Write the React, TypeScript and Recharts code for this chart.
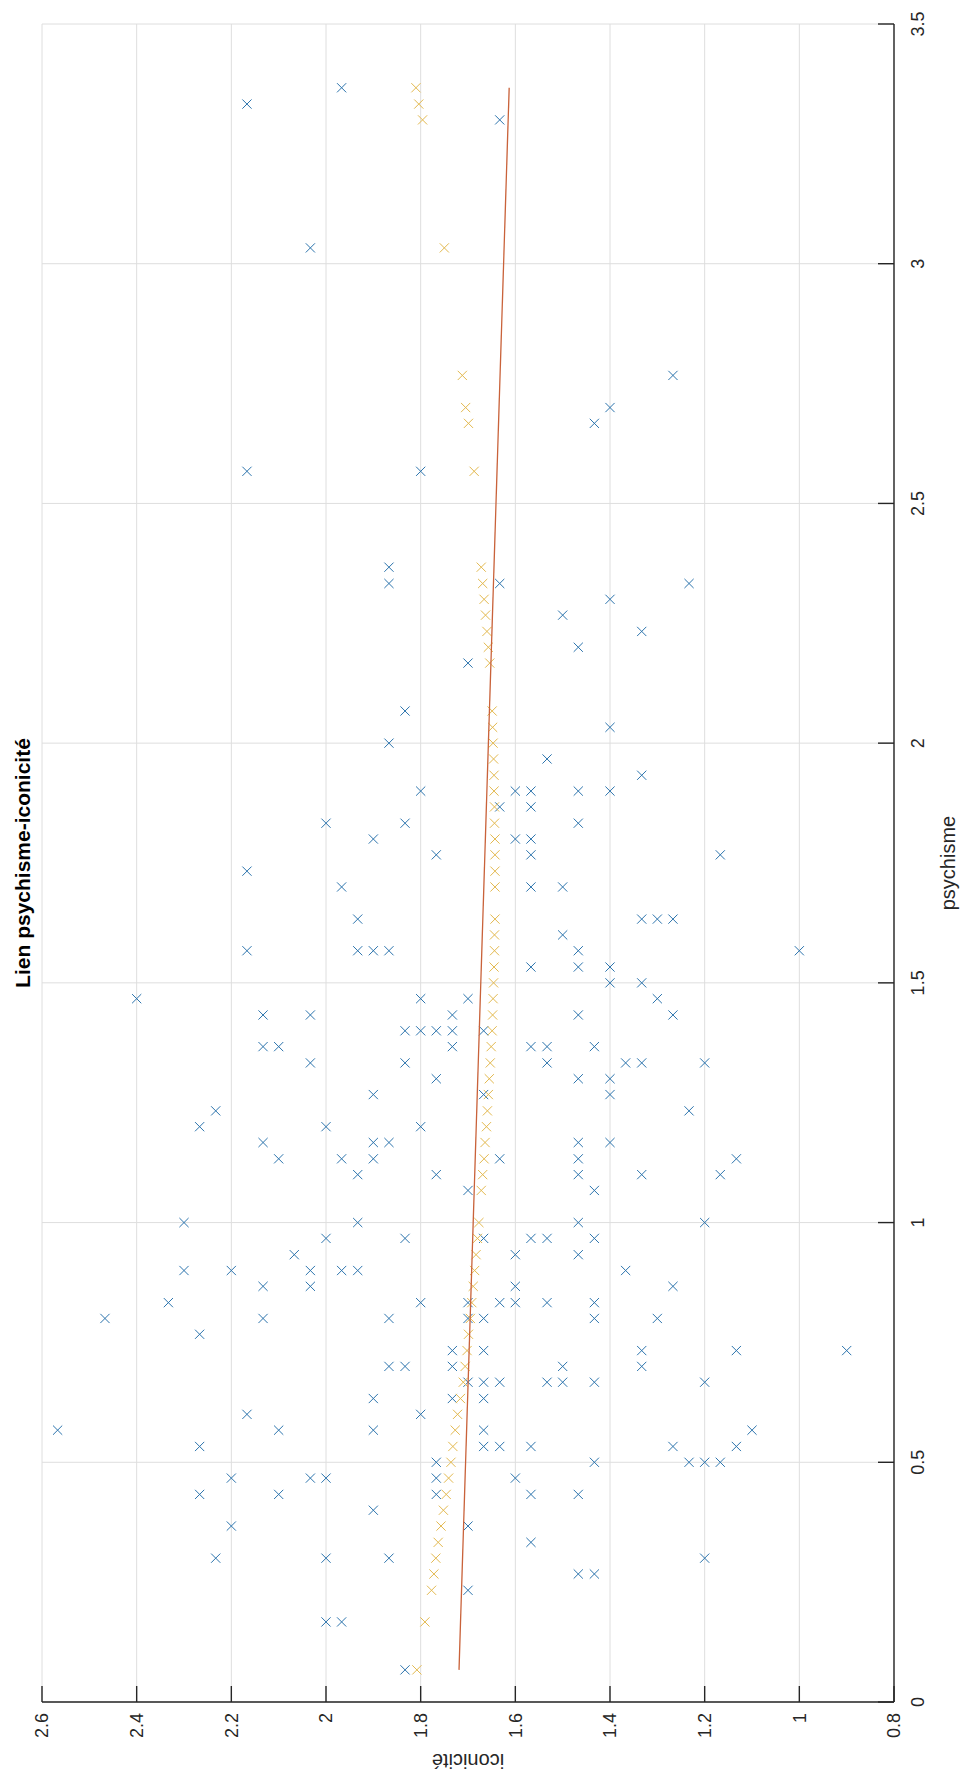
import { ScatterChart, Scatter, XAxis, YAxis, CartesianGrid } from 'recharts';

// chart is drawn upright (psychisme horizontal) then turned a quarter turn left, like the source image
const W = 1780;
const H = 969;
const AXIS = '#262626';
const GRID = '#dedede';
const BLUE = '#2c74ad';
const YELLOW = '#e3b94f';
const RED = '#c9623a';
const FONT = '"Liberation Sans", Arial, Helvetica, sans-serif';
const TICK_LEN = 16;

const psyTicks = [0, 0.5, 1, 1.5, 2, 2.5, 3, 3.5];
const icoTicks = [0.8, 1, 1.2, 1.4, 1.6, 1.8, 2, 2.2, 2.4, 2.6];

// observations
const obsPsychisme = [
  3.367, 3.333, 3.3, 3.033, 2.767, 2.7, 2.667, 2.567, 2.567,
  2.367, 2.333, 2.333, 2.333, 2.3, 2.267, 2.233, 2.2, 2.167, 2.067, 2.033, 2, 1.967, 1.933,
  1.9, 1.9, 1.9, 1.9, 1.9, 1.867, 1.867, 1.833, 1.833, 1.833, 1.8, 1.8, 1.8,
  1.767, 1.767, 1.767, 1.733, 1.7, 1.7, 1.7, 1.633, 1.633, 1.633, 1.633, 1.6,
  1.567, 1.567, 1.567, 1.567, 1.567, 1.567, 1.533, 1.533, 1.533, 1.5, 1.5,
  1.467, 1.467, 1.467, 1.467, 1.433, 1.433, 1.433, 1.433, 1.433, 1.4, 1.4, 1.4, 1.4, 1.4,
  1.367, 1.367, 1.367, 1.367, 1.367, 1.367, 1.333, 1.333, 1.333, 1.333, 1.333, 1.333,
  1.3, 1.3, 1.3, 1.267, 1.267, 1.267, 1.233, 1.233, 1.2, 1.2, 1.2,
  1.167, 1.167, 1.167, 1.167, 1.167, 1.133, 1.133, 1.133, 1.133, 1.133, 1.133,
  1.1, 1.1, 1.1, 1.1, 1.1, 1.067, 1.067, 1, 1, 1, 1,
  0.967, 0.967, 0.967, 0.967, 0.967, 0.967, 0.933, 0.933, 0.933,
  0.9, 0.9, 0.9, 0.9, 0.9, 0.9, 0.867, 0.867, 0.867, 0.867,
  0.833, 0.833, 0.833, 0.833, 0.833, 0.833, 0.833,
  0.8, 0.8, 0.8, 0.8, 0.8, 0.8, 0.8, 0.767,
  0.733, 0.733, 0.733, 0.733, 0.733, 0.7, 0.7, 0.7, 0.7, 0.7,
  0.667, 0.667, 0.667, 0.667, 0.667, 0.667, 0.667, 0.633, 0.633, 0.633,
  0.6, 0.6, 0.567, 0.567, 0.567, 0.567, 0.567,
  0.533, 0.533, 0.533, 0.533, 0.533, 0.533, 0.5, 0.5, 0.5, 0.5, 0.5,
  0.467, 0.467, 0.467, 0.467, 0.467, 0.433, 0.433, 0.433, 0.433, 0.433,
  0.4, 0.367, 0.367, 0.333, 0.3, 0.3, 0.3, 0.3, 0.267, 0.267, 0.233, 0.167, 0.167, 0.067,
];
const obsIconicite = [
  1.967, 2.167, 1.633, 2.033, 1.267, 1.4, 1.433, 2.167, 1.8,
  1.867, 1.867, 1.633, 1.233, 1.4, 1.5, 1.333, 1.467, 1.7, 1.833, 1.4, 1.867, 1.533, 1.333,
  1.8, 1.6, 1.567, 1.467, 1.4, 1.633, 1.567, 2, 1.833, 1.467, 1.9, 1.6, 1.567,
  1.767, 1.567, 1.167, 2.167, 1.967, 1.567, 1.5, 1.933, 1.333, 1.3, 1.267, 1.5,
  2.167, 1.933, 1.9, 1.867, 1.467, 1, 1.567, 1.467, 1.4, 1.4, 1.333,
  2.4, 1.8, 1.7, 1.3, 2.133, 2.033, 1.733, 1.467, 1.267, 1.833, 1.8, 1.767, 1.733, 1.667,
  2.133, 2.1, 1.733, 1.567, 1.533, 1.433, 2.033, 1.833, 1.533, 1.367, 1.333, 1.2,
  1.767, 1.467, 1.4, 1.9, 1.667, 1.4, 2.233, 1.233, 2.267, 2, 1.8,
  2.133, 1.9, 1.867, 1.467, 1.4, 2.1, 1.967, 1.9, 1.633, 1.467, 1.133,
  1.933, 1.767, 1.467, 1.333, 1.167, 1.7, 1.433, 2.3, 1.933, 1.467, 1.2,
  2, 1.833, 1.667, 1.567, 1.533, 1.433, 2.067, 1.6, 1.467,
  2.3, 2.2, 2.033, 1.967, 1.933, 1.367, 2.133, 2.033, 1.6, 1.267,
  2.333, 1.8, 1.7, 1.633, 1.6, 1.533, 1.433,
  2.467, 2.133, 1.867, 1.7, 1.667, 1.433, 1.3, 2.267,
  1.733, 1.667, 1.333, 1.133, 0.9, 1.867, 1.833, 1.733, 1.5, 1.333,
  1.7, 1.667, 1.633, 1.533, 1.5, 1.433, 1.2, 1.9, 1.733, 1.667,
  2.167, 1.8, 2.567, 2.1, 1.9, 1.667, 1.1,
  2.267, 1.667, 1.633, 1.567, 1.267, 1.133, 1.767, 1.433, 1.233, 1.2, 1.167,
  2.2, 2.033, 2, 1.767, 1.6, 2.267, 2.1, 1.767, 1.567, 1.467,
  1.9, 2.2, 1.7, 1.567, 2.233, 2, 1.867, 1.2, 1.467, 1.433, 1.7, 2, 1.967, 1.833,
];

// fitted values (yellow crosses)
const fitPsychisme = [
  0.067, 0.167, 0.233, 0.267, 0.3, 0.333, 0.367, 0.4, 0.433, 0.467, 0.5, 0.533, 0.567, 0.6,
  0.633, 0.667, 0.7, 0.733, 0.767, 0.8, 0.833, 0.867, 0.9, 0.933, 0.967, 1, 1.067, 1.1,
  1.133, 1.167, 1.2, 1.233, 1.267, 1.3, 1.333, 1.367, 1.4, 1.433, 1.467, 1.5, 1.533, 1.567,
  1.6, 1.633, 1.7, 1.733, 1.767, 1.8, 1.833, 1.867, 1.9, 1.933, 1.967, 2, 2.033, 2.067,
  2.167, 2.2, 2.233, 2.267, 2.3, 2.333, 2.367, 2.567, 2.667, 2.7, 2.767, 3.033, 3.3, 3.333, 3.367,
];
const fitIconicite = [
  1.808, 1.791, 1.777, 1.772, 1.768, 1.763, 1.757, 1.752, 1.746, 1.741, 1.736, 1.732, 1.727, 1.722,
  1.716, 1.71, 1.706, 1.702, 1.699, 1.695, 1.692, 1.689, 1.686, 1.683, 1.68, 1.677, 1.672, 1.669,
  1.666, 1.664, 1.661, 1.659, 1.657, 1.655, 1.653, 1.651, 1.649, 1.648, 1.647, 1.646, 1.645, 1.644,
  1.644, 1.643, 1.643, 1.643, 1.643, 1.643, 1.644, 1.644, 1.645, 1.645, 1.646, 1.647, 1.648, 1.649,
  1.654, 1.657, 1.66, 1.663, 1.666, 1.669, 1.672, 1.687, 1.699, 1.705, 1.712, 1.75, 1.796, 1.804, 1.81,
];

// regression line ends
const trendPsychisme = [0.067, 3.367];
const trendIconicite = [1.719, 1.613];

const pairs = (xs: number[], ys: number[]) => xs.map((x, i) => ({ x, y: ys[i] }));
const observed = pairs(obsPsychisme, obsIconicite);
const fitted = pairs(fitPsychisme, fitIconicite);
const trend = pairs(trendPsychisme, trendIconicite);

const cross = (color: string) => (props: any) => {
  const { cx, cy } = props;
  const r = 4.6;
  return (
    <path
      d={`M${cx - r},${cy - r}L${cx + r},${cy + r}M${cx - r},${cy + r}L${cx + r},${cy - r}`}
      stroke={color}
      strokeWidth={1}
      fill="none"
    />
  );
};

const BottomTick = (props: any) => {
  const { x, y, payload } = props;
  return (
    <g>
      <line x1={x} y1={y} x2={x} y2={y - TICK_LEN} stroke={AXIS} strokeWidth={1.4} />
      <text x={x} y={y + 17} dy="0.71em" textAnchor="middle" fontSize={18} fill={AXIS}>
        {String(payload.value)}
      </text>
    </g>
  );
};

const LeftTick = (props: any) => {
  const { x, y, payload } = props;
  return (
    <g>
      <line x1={x} y1={y} x2={x + TICK_LEN} y2={y} stroke={AXIS} strokeWidth={1.4} />
      <text x={x - 11} y={y} dy="0.355em" textAnchor="end" fontSize={18} fill={AXIS}>
        {String(payload.value)}
      </text>
    </g>
  );
};

const TopTick = (props: any) => {
  const { x, y } = props;
  return <line x1={x} y1={y} x2={x} y2={y + TICK_LEN} stroke={AXIS} strokeWidth={1.4} />;
};

const RightTick = (props: any) => {
  const { x, y } = props;
  return <line x1={x} y1={y} x2={x - TICK_LEN} y2={y} stroke={AXIS} strokeWidth={1.4} />;
};

export default function App() {
  return (
    <div style={{ position: 'absolute', left: 0, top: 0, width: H, height: W, overflow: 'hidden', background: '#fff' }}>
      <div
        style={{
          position: 'absolute',
          left: 0,
          top: 0,
          width: W,
          height: H,
          transformOrigin: '0 0',
          transform: `translate(0px, ${W}px) rotate(-90deg)`,
          fontFamily: FONT,
        }}
      >
        <div
          style={{
            position: 'absolute',
            left: 78,
            top: 3,
            width: 1678,
            lineHeight: '40px',
            textAlign: 'center',
            fontWeight: 'bold',
            fontSize: 21,
            color: '#000',
          }}
        >
          Lien psychisme-iconicité
        </div>
        <ScatterChart width={W} height={H} margin={{ top: 42, right: 24, bottom: 0, left: 0 }} style={{ fontFamily: FONT }}>
          <CartesianGrid xAxisId="b" yAxisId="l" stroke={GRID} />
          <XAxis
            xAxisId="b"
            dataKey="x"
            type="number"
            domain={[0, 3.5]}
            ticks={psyTicks}
            interval={0}
            height={75}
            tickSize={0}
            tickMargin={0}
            tickLine={false}
            axisLine={{ stroke: AXIS, strokeWidth: 1.4 }}
            tick={BottomTick}
            label={{ value: 'psychisme', position: 'insideBottom', offset: 14, fontSize: 20, fill: AXIS }}
          />
          <XAxis
            xAxisId="t"
            orientation="top"
            type="number"
            domain={[0, 3.5]}
            ticks={psyTicks}
            interval={0}
            height={0}
            tickSize={0}
            tickMargin={0}
            tickLine={false}
            axisLine={{ stroke: AXIS, strokeWidth: 1.4 }}
            tick={TopTick}
          />
          <YAxis
            yAxisId="l"
            dataKey="y"
            type="number"
            domain={[0.8, 2.6]}
            ticks={icoTicks}
            interval={0}
            width={78}
            tickSize={0}
            tickMargin={0}
            tickLine={false}
            axisLine={{ stroke: AXIS, strokeWidth: 1.4 }}
            tick={LeftTick}
            label={{ value: 'iconicité', angle: -90, position: 'insideLeft', offset: 19, fontSize: 20, fill: AXIS, style: { textAnchor: 'middle' } }}
          />
          <YAxis
            yAxisId="r"
            orientation="right"
            type="number"
            domain={[0.8, 2.6]}
            ticks={icoTicks}
            interval={0}
            width={0}
            tickSize={0}
            tickMargin={0}
            tickLine={false}
            axisLine={{ stroke: AXIS, strokeWidth: 1.4 }}
            tick={RightTick}
          />
          <Scatter xAxisId="b" yAxisId="l" data={observed} shape={cross(BLUE)} isAnimationActive={false} />
          <Scatter xAxisId="b" yAxisId="l" data={fitted} shape={cross(YELLOW)} isAnimationActive={false} />
          <Scatter
            xAxisId="b"
            yAxisId="l"
            data={trend}
            line={{ stroke: RED, strokeWidth: 1.3 }}
            shape={() => <g />}
            isAnimationActive={false}
          />
        </ScatterChart>
      </div>
    </div>
  );
}
